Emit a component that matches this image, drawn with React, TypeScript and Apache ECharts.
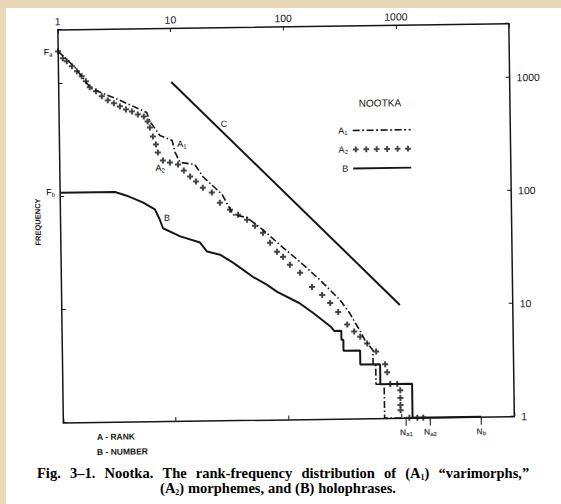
import React, { useEffect, useRef } from 'react';
import * as echarts from 'echarts';

// ---- data (rank, frequency) ----
const xTickLabels = ['1', '10', '100', '1000'];
const yTickLabels = ['1', '10', '100', '1000'];

const a1Data: [number, number][] = [
  [1, 1930], [1.4, 1390], [1.93, 900], [3.48, 700], [6.0, 542], [6.4, 451], [7.8, 338],
  [10, 304], [10.6, 238], [11.7, 194], [15.8, 185], [18.6, 144], [24.7, 110], [27.3, 100],
  [34, 66], [45, 62], [62.5, 48], [88, 35], [132, 24.7], [197, 17], [296, 11.2], [360, 8.5],
  [400, 7], [440, 6], [480, 5], [569, 4], [569, 3], [600, 3], [600, 2], [709, 2], [709, 1], [1100, 1],
];

const a2Data: [number, number][] = [
  [1, 1930], [1.1, 1675], [1.19, 1574], [1.32, 1419], [1.46, 1279], [1.61, 1153], [1.75, 1040],
  [1.89, 919], [2.14, 846], [2.41, 763], [2.72, 701], [3.08, 659], [3.48, 618], [3.93, 580],
  [4.44, 556], [5.01, 522], [5.66, 500], [6.1, 451], [6.38, 399], [6.77, 332], [7.18, 282], [7.46, 239],
  [8.25, 203], [9.5, 194], [11.2, 186], [12.6, 164], [14.3, 145], [16.1, 131], [18.5, 115],
  [22.2, 104], [26.1, 84.5], [32, 73], [37.7, 65.8], [45.2, 59.3], [53, 52.3], [62.4, 45.2],
  [71.8, 36.8], [82.6, 30.6], [93.3, 27.5], [107, 23.4], [131.5, 19.8], [167, 14.8], [205, 12.5],
  [241, 10.6], [283, 8.8], [339, 6.8], [390, 5.9], [441, 5.3], [507, 4.6], [608, 3.9], [728, 3],
  [757, 2.55], [803, 2], [927, 2], [984, 1.76], [984, 1.5], [984, 1.3], [984, 1.17],
  [1175, 1], [1382, 1], [1560, 1],
];

const bData: [number, number][] = [
  [1, 108], [3.07, 108], [3.9, 100], [5.4, 87], [6.9, 75], [7.6, 61], [8.1, 51], [11.5, 43],
  [17.2, 37.7], [19.8, 31.3], [25.8, 29.3], [33.5, 24.8], [50, 18.5], [66.8, 15.6], [81.9, 13.5],
  [128, 10.7], [170, 8.7], [244, 6.5], [260, 6], [300, 6], [300, 5], [312, 5], [312, 4],
  [438, 4], [438, 3], [656, 3], [656, 2], [1254, 2], [1254, 1], [5100, 1],
];

const cData: [number, number][] = [[10, 1000], [1000, 10]];

const nNames = ['a1', 'a2', 'b'];
const nValues = [1100, 1800, 5100];

const seriesNames = ['A1', 'A2', 'B', 'C'];

const captionLine1 = ['Fig.', '3–1.', 'Nootka.', 'The', 'rank-frequency', 'distribution', 'of', '(A|1|)', '“varimorphs,”'];
const captionLine2 = '(A|2|) morphemes, and (B) holophrases.';

// ---- styles ----
const INK = '#161616';
const BEIGE = '#e8d8b8';
const SANS = "'Liberation Sans Narrow','Liberation Sans',Arial,sans-serif";
const SANS2 = "'Liberation Sans',Arial,sans-serif";
const SERIF = "'Liberation Serif','Times New Roman',serif";

const plusPath = 'path://M-1,-3H1V-1H3V1H1V3H-1V1H-3V-1H-1Z';
const a1Icon =
  'path://M0,0H7V1.6H0Z M9.5,0H11.5V1.6H9.5Z M14,0H21V1.6H14Z M23.5,0H25.5V1.6H23.5Z M28,0H35V1.6H28Z M37.5,0H39.5V1.6H37.5Z M42,0H49V1.6H42Z M51.5,0H53.5V1.6H51.5Z M56,0H58V1.6H56Z';
const a2Icon =
  'path://' +
  [3, 13.8, 24.6, 35.4, 46.2, 57]
    .map((c) => `M${c - 1},0H${c + 1}V2H${c + 3}V4H${c + 1}V6H${c - 1}V4H${c - 3}V2H${c - 1}Z`)
    .join(' ');
const bIcon = 'path://M0,0H58V1.8H0Z';

const powLabel = (v: number, list: string[]) => {
  const r = Math.round(v);
  return Math.abs(v - r) < 1e-6 && list.includes(String(r)) ? String(r) : '';
};

const subRich = (size: number, sub: number, family: string, weight: string = 'normal') => ({
  m: { fontSize: size, lineHeight: size + 2, fontFamily: family, fontWeight: weight, color: INK },
  s: { fontSize: sub, lineHeight: sub, fontFamily: family, fontWeight: weight, color: INK, verticalAlign: 'bottom' },
});

// caption rich helpers: 'A|1|' -> A, subscript 1
const capWord = (w: string) => {
  const parts = w.split('|');
  return parts.map((p, i) => (p === '' ? '' : i % 2 === 1 ? `{s|${p}}` : `{b|${p}}`)).join('');
};
const capRich = (space: number) => ({
  b: { fontSize: 14.5, lineHeight: 17, fontWeight: 'bold', fontFamily: SERIF, color: INK },
  s: { fontSize: 8, lineHeight: 8, fontWeight: 'bold', fontFamily: SERIF, color: INK, verticalAlign: 'bottom' },
  w: { width: space, fontSize: 14.5, lineHeight: 17, fontFamily: SERIF },
});

export default function App() {
  const plotRef = useRef<HTMLDivElement>(null);
  const pageRef = useRef<HTMLDivElement>(null);

  useEffect(() => {
    document.body.style.margin = '0';
    if (!plotRef.current || !pageRef.current) return;
    const page = echarts.init(pageRef.current, undefined, { renderer: 'svg' });
    const chart = echarts.init(plotRef.current, undefined, { renderer: 'svg' });

    page.setOption({
      animation: false,
      backgroundColor: '#ffffff',
      graphic: [
        { type: 'rect', silent: true, shape: { x: 0, y: 0, width: 6, height: 504 }, style: { fill: BEIGE } },
        { type: 'rect', silent: true, shape: { x: 0, y: 0, width: 561, height: 8 }, style: { fill: BEIGE } },
        {
          type: 'text', x: 37, y: 473,
          style: {
            text: captionLine1.map(capWord).join('{w| }'),
            rich: capRich(9.2), align: 'left', verticalAlign: 'middle',
          },
        },
        {
          type: 'text', x: 278, y: 488,
          style: {
            text: captionLine2.split(' ').map(capWord).join('{w| }'),
            rich: capRich(3.8), align: 'center', verticalAlign: 'middle',
          },
        },
      ],
    });

    const axisLine = { show: true, lineStyle: { color: INK, width: 1.5 } };
    const axisTick = { show: true, inside: true, length: 4, lineStyle: { color: INK, width: 1 } };

    const option: any = {
      animation: false,
      backgroundColor: 'transparent',
      grid: { left: 60.9, top: 26.6, width: 451, height: 393, containLabel: false },
      xAxis: [
        {
          type: 'log', logBase: 10, min: 1, max: 10000, position: 'top',
          axisLine, axisTick, splitLine: { show: false }, minorTick: { show: false },
          axisLabel: { show: true, margin: 3, fontSize: 10.5, fontFamily: SANS, color: INK, formatter: (v: number) => powLabel(v, xTickLabels) },
        },
        {
          type: 'log', logBase: 10, min: 1, max: 10000, position: 'bottom',
          axisLine, axisTick, splitLine: { show: false }, axisLabel: { show: false },
        },
      ],
      yAxis: [
        {
          type: 'log', logBase: 10, min: 1, max: 3000, position: 'left',
          axisLine, axisTick, splitLine: { show: false }, axisLabel: { show: false },
        },
        {
          type: 'log', logBase: 10, min: 1, max: 3000, position: 'right',
          axisLine, axisTick, splitLine: { show: false },
          axisLabel: { show: true, margin: 7, fontSize: 10.5, fontFamily: SANS, color: INK, formatter: (v: number) => powLabel(v, yTickLabels) },
        },
      ],
      legend: {
        orient: 'vertical', left: 340, top: 127, padding: 0, itemWidth: 58, itemHeight: 6, itemGap: 9,
        align: 'right', selectedMode: false, symbolKeepAspect: true,
        itemStyle: { borderWidth: 0 },
        data: [
          { name: seriesNames[0], icon: a1Icon },
          { name: seriesNames[1], icon: a2Icon },
          { name: seriesNames[2], icon: bIcon },
        ],
        formatter: (name: string) => (name.length > 1 ? `{m|${name[0]}}{s|${name.slice(1)}}` : `{m|${name}}`),
        textStyle: { width: 13, fontSize: 9, fontFamily: SANS, color: INK, rich: subRich(9, 6, SANS) },
      },
      series: [
        {
          name: seriesNames[0], type: 'line', data: a1Data, xAxisIndex: 0, yAxisIndex: 1, clip: false,
          showSymbol: false, symbol: 'none', color: INK,
          lineStyle: { color: INK, width: 1.6, type: [7, 2.5, 1.5, 2.5] },
        },
        {
          name: seriesNames[1], type: 'scatter', data: a2Data, xAxisIndex: 0, yAxisIndex: 1, clip: false,
          symbol: plusPath, symbolSize: 6, color: INK, itemStyle: { color: INK },
        },
        {
          name: seriesNames[2], type: 'line', data: bData, xAxisIndex: 0, yAxisIndex: 1, clip: false,
          showSymbol: false, symbol: 'none', color: INK, lineStyle: { color: INK, width: 2 },
        },
        {
          name: seriesNames[3], type: 'line', data: cData, xAxisIndex: 0, yAxisIndex: 1, clip: false,
          showSymbol: false, symbol: 'none', color: INK, lineStyle: { color: INK, width: 2 },
        },
        {
          name: 'N', type: 'scatter', xAxisIndex: 0, yAxisIndex: 1, clip: false,
          data: nValues.map((v, i) => ({ value: [v, 1], name: nNames[i] })),
          symbol: 'rect', symbolSize: [1.3, 8], symbolOffset: [0, 4], itemStyle: { color: INK },
          label: {
            show: true, position: 'bottom', distance: 1,
            formatter: (p: any) => `{m|N}{s|${p.name}}`,
            rich: subRich(8.5, 6, SANS2, 'bold'),
          },
        },
      ],
      graphic: [
        { type: 'text', x: 382, y: 104.4, style: { text: 'NOOTKA', fontSize: 10, fontFamily: SANS2, fill: INK, align: 'center', verticalAlign: 'middle' } },
        { type: 'text', x: 46.5, y: 49, style: { text: '{m|F}{s|a}', rich: subRich(9, 6, SANS), align: 'left', verticalAlign: 'middle' } },
        { type: 'text', x: 47, y: 189, style: { text: '{m|F}{s|b}', rich: subRich(9, 6, SANS), align: 'left', verticalAlign: 'middle' } },
        { type: 'text', x: 38.4, y: 218.6, rotation: Math.PI / 2, style: { text: 'FREQUENCY', fontSize: 7.5, fontWeight: 'bold', fontFamily: SANS2, fill: INK, align: 'center', verticalAlign: 'middle' } },
        { type: 'text', x: 183.5, y: 142.6, style: { text: '{m|A}{s|1}', rich: subRich(9, 6, SANS), align: 'center', verticalAlign: 'middle' } },
        { type: 'text', x: 161.2, y: 166.3, style: { text: '{m|A}{s|2}', rich: subRich(9, 6, SANS), align: 'center', verticalAlign: 'middle' } },
        { type: 'text', x: 167.5, y: 216.4, style: { text: 'B', fontSize: 9, fontFamily: SANS, fill: INK, align: 'center', verticalAlign: 'middle' } },
        { type: 'text', x: 225.8, y: 123.2, style: { text: 'C', fontSize: 9, fontFamily: SANS, fill: INK, align: 'center', verticalAlign: 'middle' } },
        { type: 'text', x: 94.4, y: 434.4, style: { text: 'A - RANK', fontSize: 8.5, fontWeight: 'bold', fontFamily: SANS2, fill: INK, align: 'left', verticalAlign: 'middle' } },
        { type: 'text', x: 94.2, y: 449.4, style: { text: 'B - NUMBER', fontSize: 8.5, fontWeight: 'bold', fontFamily: SANS2, fill: INK, align: 'left', verticalAlign: 'middle' } },
      ],
    };

    chart.setOption(option);
    return () => {
      chart.dispose();
      page.dispose();
    };
  }, []);

  return (
    <div style={{ position: 'absolute', left: 0, top: 0, width: 561, height: 504 }}>
      <div ref={pageRef} style={{ position: 'absolute', left: 0, top: 0, width: 561, height: 504 }} />
      <div
        ref={plotRef}
        style={{ position: 'absolute', left: 0, top: 0, width: 561, height: 504, transform: 'rotate(-0.8deg)' }}
      />
    </div>
  );
}
